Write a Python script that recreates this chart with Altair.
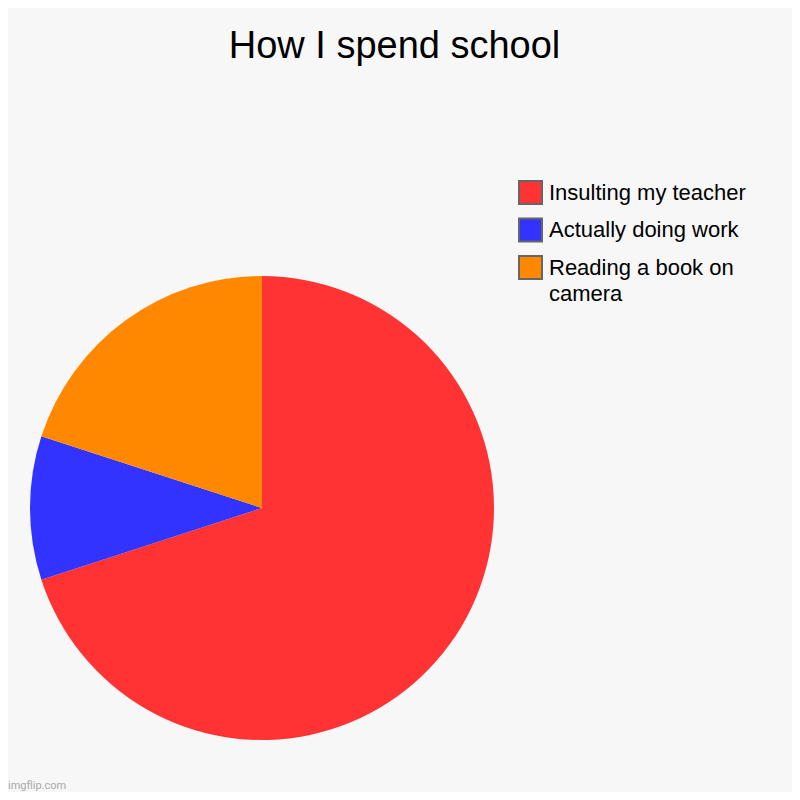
import altair as alt
import pandas as pd

title_text = "How I spend school"
categories = ["Insulting my teacher", "Actually doing work", "Reading a book on camera"]
values = [70, 10, 20]
colors = ["#ff3333", "#3333ff", "#ff8800"]
watermark = ["imgflip.com"]

df = pd.DataFrame({"category": categories, "value": values, "order": list(range(len(categories)))})
wm = pd.DataFrame({"t": watermark})

label_expr = ("datum.label == 'Reading a book on camera' ? "
              "['Reading a book on', 'camera'] : datum.label")

pie = alt.Chart(df).mark_arc(radius=232, stroke=None).encode(
    theta=alt.Theta("value:Q", stack=True),
    order=alt.Order("order:Q"),
    color=alt.Color(
        "category:N",
        scale=alt.Scale(domain=categories, range=colors),
        legend=alt.Legend(
            title=None,
            orient="none",
            legendX=510,
            legendY=102,
            symbolType="square",
            symbolSize=529,
            symbolStrokeColor="#666666",
            symbolStrokeWidth=2,
            symbolOpacity=1,
            labelFont="Liberation Sans",
            labelFontSize=22,
            labelColor="#000000",
            labelOffset=6,
            labelLimit=300,
            labelExpr=label_expr,
            rowPadding=6.5,
            padding=0,
        ),
    ),
    x=alt.value(254),
    y=alt.value(430),
)

mark_wm = alt.Chart(wm).mark_text(
    align="left", baseline="bottom", font="Roboto", fontSize=11, color="#aaaaaa"
).encode(text="t:N", x=alt.value(0), y=alt.value(713))

chart = alt.layer(pie, mark_wm).properties(
    width=784,
    height=714,
    padding={"left": 0, "right": 0, "top": 70, "bottom": 0},
    autosize=alt.AutoSizeParams(type="none"),
    background="#f7f7f7",
    title=alt.TitleParams(
        title_text,
        font="Liberation Sans",
        fontSize=38,
        fontWeight="normal",
        color="#000000",
        anchor="middle",
        frame="group",
        baseline="alphabetic",
        offset=19,
        dy=37,
        dx=-5.5,
    ),
).configure(
    style={"guide-label": {"lineHeight": 26}},
    view=alt.ViewConfig(strokeWidth=0),
)

chart.save("out.html", embed_options={"renderer": "svg", "actions": False})
